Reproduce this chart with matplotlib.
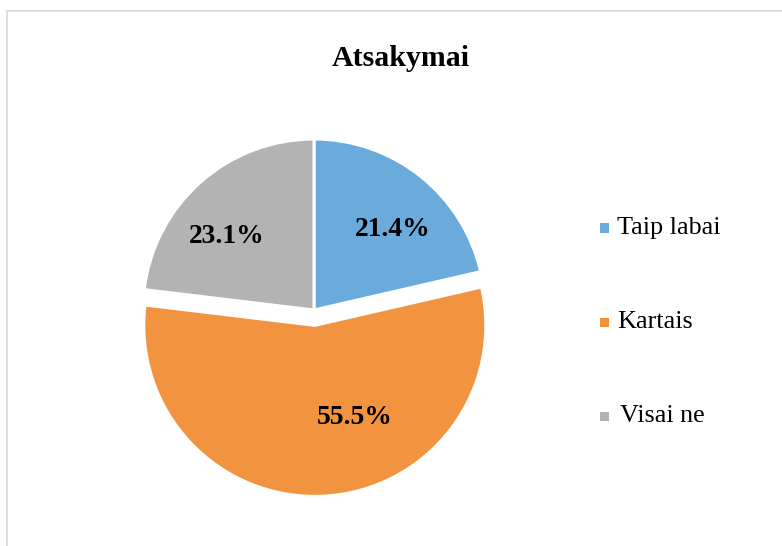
import matplotlib
matplotlib.use("Agg")
import matplotlib.pyplot as plt
from matplotlib.patches import Rectangle

plt.rcParams['font.family'] = ['Liberation Serif', 'DejaVu Serif']

title = "Atsakymai"
categories = ["Taip labai", "Kartais", "Visai ne"]
shares = [21.4, 55.5, 23.1]
colors = ["#6AABDC", "#F2933F", "#B3B3B3"]
explode = [0, 0.09, 0]

W, H = 782, 546
fig = plt.figure(figsize=(W / 100, H / 100), dpi=100)

# light frame around the chart area
fig.add_artist(Rectangle((7 / W, -0.05), 1.1, 1 - 11 / H + 0.05,
                         transform=fig.transFigure, fill=False,
                         edgecolor="#D9D9D9", linewidth=1.2))

# square axes, radius 1 -> ~171 px, centre at (314, 310)
R = 171
L = 1.25
side = 2 * L * R
cx, cy = 314, 310
ax = fig.add_axes([(cx - side / 2) / W, (H - cy - side / 2) / H, side / W, side / H])

wedges, _ = ax.pie(shares, colors=colors, explode=explode, startangle=90,
                   counterclock=False,
                   wedgeprops=dict(edgecolor="white", linewidth=2.2))
ax.set_xlim(-L, L)
ax.set_ylim(-L, L)
ax.set_aspect("equal")
ax.axis("off")

# percentage labels, placed inside each slice
label_pos = [(0.46, 0.47), (0.24, -0.63), (-0.51, 0.43)]
for val, (x, y) in zip(shares, label_pos):
    ax.text(x, y, f"{val:.1f}%", ha="center", va="center",
            fontsize=19.8, fontweight="bold", color="black")

fig.text(401 / W, 1 - 58 / H, title, ha="center", va="center",
         fontsize=21.5, fontweight="bold")

# legend entries
legend_y = [228, 322, 416]
text_x = [617, 617, 620]
for name, col, y, tx in zip(categories, colors, legend_y, text_x):
    fig.add_artist(Rectangle((600 / W, (H - y - 4.5) / H), 9 / W, 9 / H,
                             transform=fig.transFigure, facecolor=col,
                             edgecolor="none"))
    fig.text(tx / W, 1 - y / H, name, ha="left", va="center", fontsize=18.8)

fig.savefig("out.png", dpi=100)
